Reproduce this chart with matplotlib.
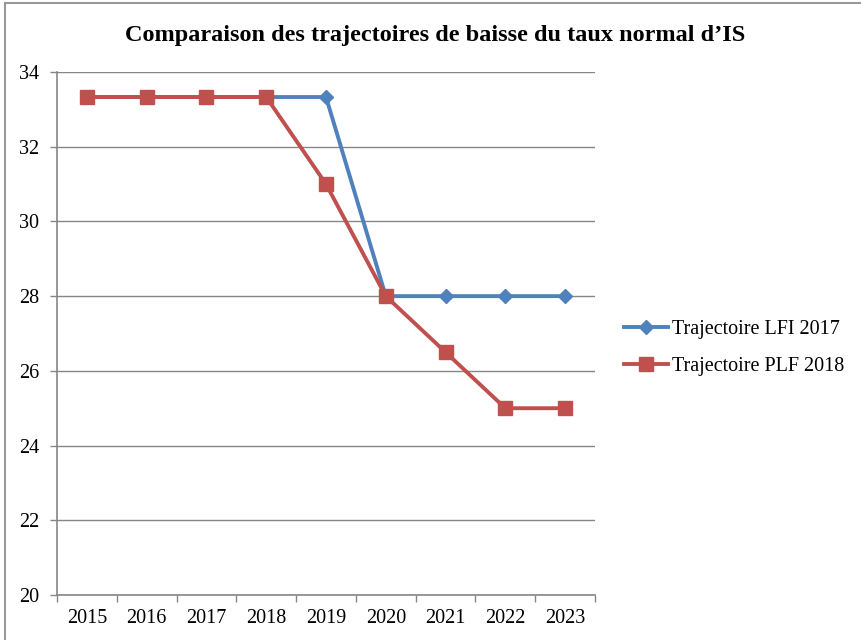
import matplotlib
matplotlib.use("Agg")
import matplotlib.pyplot as plt
from matplotlib.lines import Line2D
import numpy as np

years = ["2015", "2016", "2017", "2018", "2019", "2020", "2021", "2022", "2023"]
lfi_2017 = [33.33, 33.33, 33.33, 33.33, 33.33, 28, 28, 28, 28]
plf_2018 = [33.33, 33.33, 33.33, 33.33, 31, 28, 26.5, 25, 25]
yticks = [20, 22, 24, 26, 28, 30, 32, 34]

plt.rcParams['font.family'] = ['Liberation Serif', 'DejaVu Serif']

fig = plt.figure(figsize=(8.61, 6.4), dpi=100)
ax = fig.add_axes([57/861, 1 - 595/640, (595-57)/861, (595-72)/640])

x = np.arange(len(years))
blue = "#4F81BD"
red = "#C0504D"
ax.plot(x, lfi_2017, color=blue, lw=2.8, marker="D", ms=7.5, mew=1, mec=blue, mfc=blue,
        label="Trajectoire LFI 2017", zorder=3)
ax.plot(x, plf_2018, color=red, lw=2.8, marker="s", ms=10.5, mec=red, mfc=red,
        label="Trajectoire PLF 2018", zorder=4)

fs = 14.5
ax.set_xlim(-0.5, len(years) - 0.5)
ax.set_ylim(20, 34)
ax.set_yticks(yticks)
ax.set_yticklabels([str(v) for v in yticks], fontsize=fs)
ax.set_xticks(x)
ax.set_xticklabels(years, fontsize=fs)
ax.set_xticks(np.arange(-0.5, len(years)), minor=True)
ax.tick_params(axis='x', which='major', length=0, pad=10)
ax.tick_params(axis='x', which='minor', length=5, color="#868686", width=1)
ax.tick_params(axis='y', length=5, color="#868686", width=1, pad=8)
ax.grid(axis='y', color="#868686", lw=1)
ax.set_axisbelow(True)
for s in ["top", "right"]:
    ax.spines[s].set_visible(False)
for s in ["left", "bottom"]:
    ax.spines[s].set_color("#868686")
    ax.spines[s].set_linewidth(1.2)

fig.text(435/861, 1 - 35/640, "Comparaison des trajectoires de baisse du taux normal d\u2019IS",
         ha="center", va="center", fontsize=17.5, fontweight="bold")

leg = fig.legend(*ax.get_legend_handles_labels(), loc="center left",
                 bbox_to_anchor=(624/861, 1 - 348/640), bbox_transform=fig.transFigure,
                 frameon=False, fontsize=fs, handlelength=2.2, handletextpad=0.2,
                 labelspacing=0.85, borderpad=0, borderaxespad=0)

# outer border (top and left visible)
fig.add_artist(Line2D([5/861, 5/861], [0, 1 - 3/640], color="#999999", lw=1.5))
fig.add_artist(Line2D([5/861, 1], [1 - 3/640, 1 - 3/640], color="#999999", lw=1.5))

fig.savefig("out.png", dpi=100)
